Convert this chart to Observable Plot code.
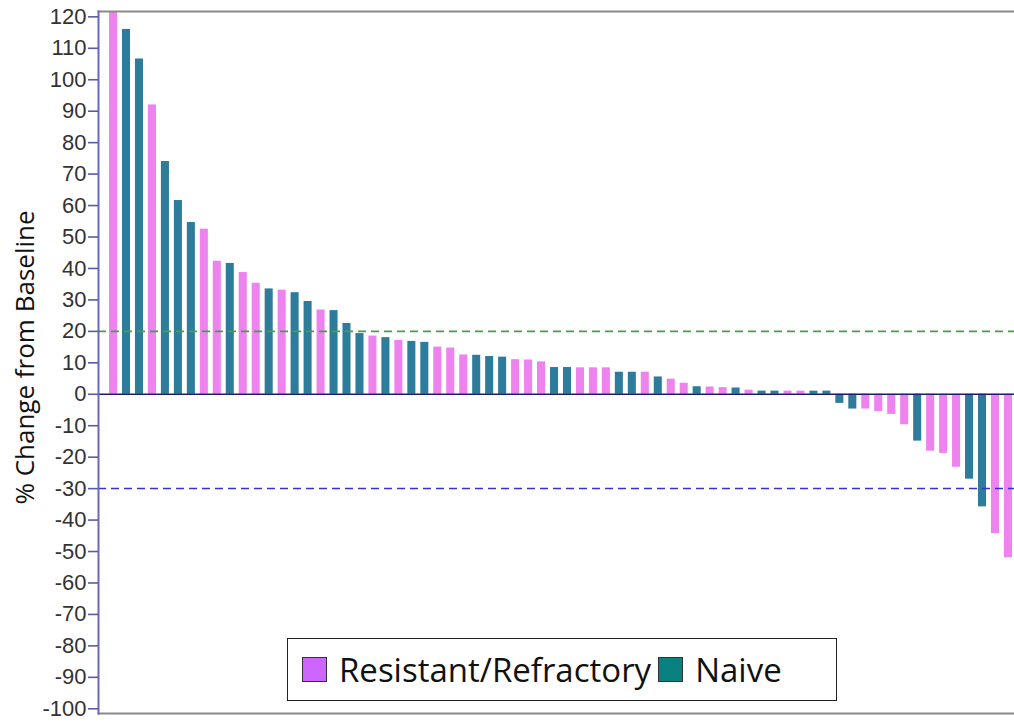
<!DOCTYPE html>
<html><head><meta charset="utf-8">
<script src="https://cdn.jsdelivr.net/npm/d3@7"></script>
<script src="https://cdn.jsdelivr.net/npm/@observablehq/plot@0.6"></script>
<style>
body{margin:0;background:#fff;}
#wrap{position:relative;width:1014px;height:722px;overflow:hidden;}
#legend{position:absolute;left:287px;top:638px;width:550px;height:63px;border:1.5px solid #222;background:#fff;box-sizing:border-box;display:flex;align-items:center;font-family:"Open Sans",sans-serif;font-size:33px;color:#111;padding-left:14px;}
.sw{width:25px;height:25px;border:1.5px solid #333;box-sizing:border-box;flex:none;}
</style></head><body><div id="wrap"></div>
<script>
const groups = ["Resistant/Refractory", "Naive"];
const barColors = ["#ee82ee", "#2e7c9c"];
const legendColors = ["#cc66ff", "#0b8080"];
// 0 = Resistant/Refractory, 1 = Naive
const patientGroup = [0,1,1,0,1,1,1,0,0,1, 0,0,1,0,1,1,0,1,1,1, 0,1,0,1,1,0,0,0,1,1, 1,0,0,0,1,1,0,0,0,1, 1,0,1,0,0,1,0,0,1,0, 1,1,0,0,1,1,1,1,0,0, 0,0,1,0,0,0,1,1,0,0];
const pctChange = [121.5,116,106.6,92,74,61.6,54.6,52.5,42.3,41.6, 38.7,35.3,33.5,33.1,32.3,29.5,26.8,26.6,22.5,19.3, 18.5,18,17.1,16.8,16.5,15,14.7,12.5,12.4,12, 11.8,11,10.9,10.3,8.5,8.5,8.4,8.4,8.4,7, 7,7,5.5,4.8,3.5,2.4,2.3,2.1,2,1.3, 1,1,1,1,1,1,-2.9,-4.7,-4.7,-5.5, -6.4,-9.7,-14.9,-18.1,-18.8,-23.2,-27,-35.8,-44.3,-52];
const yTicks = d3.range(-100, 121, 10);
const upperRef = [20];
const lowerRef = [-30];
const yTitle = "% Change from Baseline";

const data = pctChange.map((v, i) => ({id: i, v, g: groups[patientGroup[i]]}));

const chart = Plot.plot({
  width: 1014, height: 722,
  marginTop: 11, marginBottom: 9, marginLeft: 98, marginRight: 0,
  style: {fontFamily: "'Liberation Sans', Arial, sans-serif", fontSize: "22px", color: "#333", background: "#fff"},
  x: {type: "band", domain: d3.range(pctChange.length), range: [98, 1023], paddingInner: 0.38, paddingOuter: 0.85, axis: null},
  y: {domain: [-101.5, 121.7], axis: null},
  color: {domain: groups, range: barColors},
  marks: [
    Plot.barY(data, {x: "id", y: "v", fill: "g", clip: true}),
    Plot.ruleY([0], {stroke: "#1c1c6e", strokeWidth: 1.6}),
    Plot.ruleY(upperRef, {stroke: "#45a045", strokeWidth: 1.6, strokeDasharray: "8,5"}),
    Plot.ruleY(lowerRef, {stroke: "#3434cc", strokeWidth: 1.5, strokeDasharray: "8,5"}),
    Plot.frame({anchor: "top", stroke: "#8a8a8a", strokeWidth: 2}),
    Plot.frame({anchor: "bottom", stroke: "#8a8a8a", strokeWidth: 2}),
    Plot.frame({anchor: "left", stroke: "#6a6ab4", strokeWidth: 2}),
    Plot.axisY({ticks: yTicks, tickSize: 10, tickPadding: 2, stroke: "#5a5aa8", strokeWidth: 1.6, fill: "#333", label: null, tickFormat: d => String(d)}),
    Plot.text([yTitle], {frameAnchor: "left", textAnchor: "middle", rotate: -90, dx: -73, dy: -5, fontSize: 26, fontFamily: "'Open Sans', sans-serif", fill: "#111"})
  ]
});
const wrap = document.getElementById("wrap");
wrap.appendChild(chart);

const legend = document.createElement("div");
legend.id = "legend";
groups.forEach((g, i) => {
  const sw = document.createElement("span");
  sw.className = "sw";
  sw.style.background = legendColors[i];
  sw.style.marginLeft = i === 0 ? "0px" : "7px";
  const t = document.createElement("span");
  t.textContent = g;
  t.style.marginLeft = "12px";
  legend.appendChild(sw);
  legend.appendChild(t);
});
wrap.appendChild(legend);
</script></body></html>
